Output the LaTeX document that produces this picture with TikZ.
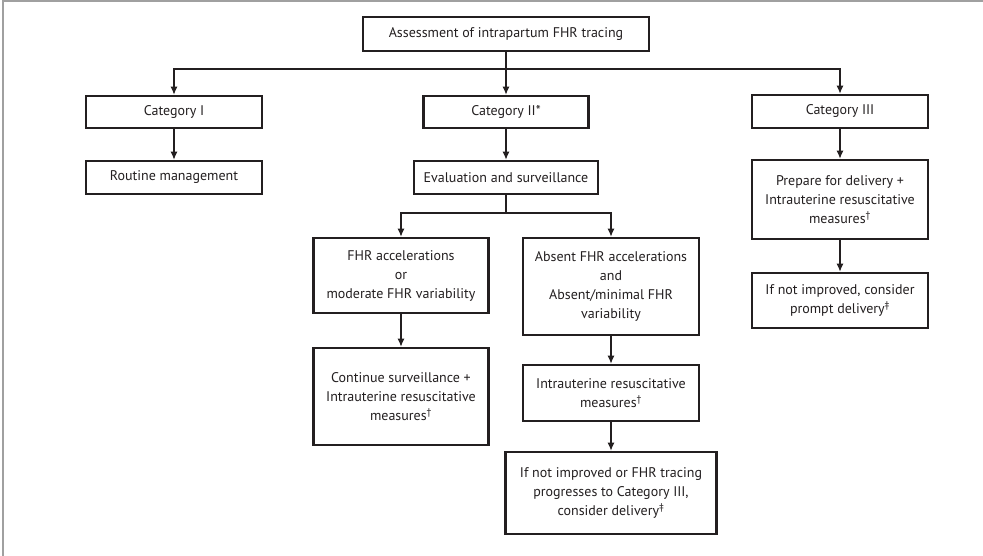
\documentclass[tikz,border=0pt]{standalone}
\usepackage{fontspec}
\setmainfont{PT Sans}[Ligatures=NoCommon]
\usetikzlibrary{arrows.meta}
\definecolor{ink}{HTML}{231F20}
\definecolor{frame}{HTML}{A0A0A0}
\tikzset{
  box/.style={draw=ink, line width=2.6pt, fill=white, text=ink, align=center,
    inner sep=0pt, font=\fontsize{14}{19}\selectfont},
  arr/.style={draw=ink, line width=1.2pt, -{Latex[length=8pt,width=7pt]}},
  ln/.style={draw=ink, line width=1.2pt}
}
\begin{document}
\begin{tikzpicture}[x=1pt,y=-1pt]
\useasboundingbox (0,0) rectangle (983,556);
\draw[frame, line width=2pt] (2.5,556) -- (2.5,1) -- (983,1);

\node[box, minimum width=286pt, minimum height=34pt] (top) at (506,34) {Assessment of intrapartum FHR tracing};
\node[box, minimum width=176pt, minimum height=32pt] (cat1) at (174,112) {Category I};
\node[box, minimum width=165pt, minimum height=32pt] (cat2) at (506,112) {Category II*};
\node[box, minimum width=176pt, minimum height=33pt] (cat3) at (840,111.5) {Category III};
\node[box, minimum width=176pt, minimum height=33pt] (routine) at (174,177.5) {Routine management};
\node[box, minimum width=184pt, minimum height=33pt] (eval) at (506,177.5) {Evaluation and surveillance};
\node[box, minimum width=175pt, minimum height=75pt] (acc) at (401,275.5) {FHR accelerations\\or\\moderate FHR variability};
\node[box, minimum width=176pt, minimum height=97pt] (absent) at (611,286.5) {Absent FHR accelerations\\and\\Absent/minimal FHR\\variability};
\node[box, minimum width=175pt, minimum height=97pt] (cont) at (401,396.5) {Continue surveillance +\\Intrauterine resuscitative\\measures\textsuperscript{†}};
\node[box, minimum width=176pt, minimum height=56pt] (intra) at (611,393) {Intrauterine resuscitative\\measures\textsuperscript{†}};
\node[box, minimum width=211pt, minimum height=82pt] (final) at (611,493) {If not improved or FHR tracing\\progresses to Category III,\\consider delivery\textsuperscript{‡}};
\node[box, minimum width=176pt, minimum height=79pt] (prep) at (840,199.5) {Prepare for delivery +\\Intrauterine resuscitative\\measures\textsuperscript{†}};
\node[box, minimum width=176pt, minimum height=55pt] (notimp) at (840,300.5) {If not improved, consider\\prompt delivery\textsuperscript{‡}};

\coordinate (j1) at (506,69);
\coordinate (j2) at (506,213);

\draw[ln] (top.south) -- (j1);
\draw[arr] (j1) -- (cat2.north);
\draw[arr] (j1) -| (cat1.north);
\draw[arr] (j1) -| (cat3.north);
\draw[arr] (cat1) -- (routine);
\draw[arr] (cat2) -- (eval);
\draw[arr] (cat3) -- (prep);
\draw[arr] (prep) -- (notimp);
\draw[ln] (eval.south) -- (j2);
\draw[arr] (j2) -| (acc.north);
\draw[arr] (j2) -| (absent.north);
\draw[arr] (acc) -- (cont);
\draw[arr] (absent) -- (intra);
\draw[arr] (intra) -- (final);
\end{tikzpicture}
\end{document}
